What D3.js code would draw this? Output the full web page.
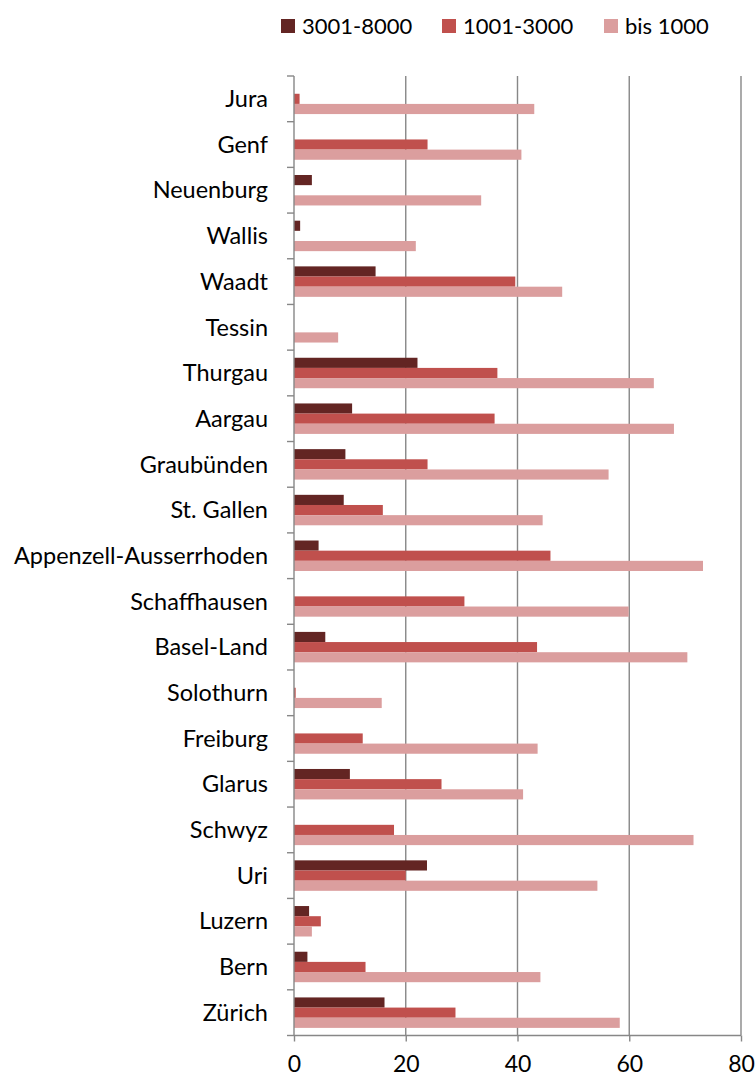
<!DOCTYPE html>
<html>
<head>
<meta charset="utf-8">
<script src="https://cdnjs.cloudflare.com/ajax/libs/d3/7.8.5/d3.min.js"></script>
<style>
  body { margin: 0; background: #fff; }
  svg { display: block; font-family: Lato, "Open Sans", sans-serif; }
</style>
</head>
<body>
<div class="chart"></div>
<script>
// categories, top to bottom as shown
var cantons = ['Jura', 'Genf', 'Neuenburg', 'Wallis', 'Waadt', 'Tessin', 'Thurgau',
  'Aargau', 'Graubünden', 'St. Gallen', 'Appenzell-Ausserrhoden', 'Schaffhausen',
  'Basel-Land', 'Solothurn', 'Freiburg', 'Glarus', 'Schwyz', 'Uri', 'Luzern', 'Bern', 'Zürich'];

var seriesNames = ['3001-8000', '1001-3000', 'bis 1000'];
var seriesColors = ['#632523', '#c0504d', '#db9e9e'];

var big   = [0, 0, 3.2, 1.1, 14.6, 0, 22.1, 10.4, 9.2, 8.9, 4.4, 0, 5.6, 0, 0, 10.0, 0, 23.8, 2.7, 2.4, 16.2];
var mid   = [1.0, 23.9, 0, 0, 39.6, 0, 36.4, 35.9, 23.9, 15.9, 45.9, 30.5, 43.5, 0.3, 12.3, 26.4, 17.9, 20.0, 4.8, 12.8, 28.9];
var small = [43.0, 40.7, 33.5, 21.8, 48.0, 7.9, 64.4, 68.0, 56.3, 44.5, 73.2, 59.9, 70.4, 15.7, 43.6, 41.0, 71.5, 54.3, 3.2, 44.1, 58.3];

var xTicks = [0, 20, 40, 60, 80];

var width = 755, height = 1086;
var plotL = 294, plotR = 741, plotT = 76, plotB = 1035.5;
var gridColor = '#878787';

var svg = d3.select('.chart').append('svg')
  .attr('width', width)
  .attr('height', height);

var x = d3.scaleLinear().domain([0, 80]).range([plotL, plotR]);
var y = d3.scaleBand().domain(cantons).range([plotT, plotB]).paddingInner(0).paddingOuter(0);
var inner = d3.scaleBand().domain(seriesNames)
  .range([y.bandwidth() / 6, y.bandwidth() * 5 / 6]);

var rows = cantons.map(function(c, i){
  return { name: c, values: [big[i], mid[i], small[i]] };
});

// gridlines
svg.append('g').selectAll('line')
  .data(xTicks.slice(1))
  .enter().append('line')
  .attr('x1', function(d){ return x(d) })
  .attr('x2', function(d){ return x(d) })
  .attr('y1', plotT)
  .attr('y2', plotB)
  .attr('stroke', gridColor)
  .attr('stroke-width', 1.4);

// bars
var groups = svg.append('g').selectAll('g')
  .data(rows)
  .enter().append('g')
  .attr('transform', function(d){ return 'translate(0,' + y(d.name) + ')' });

groups.selectAll('rect')
  .data(function(d){ return d.values.map(function(v, j){ return { s: seriesNames[j], v: v, j: j } }) })
  .enter().append('rect')
  .attr('x', x(0))
  .attr('y', function(d){ return inner(d.s) })
  .attr('width', function(d){ return x(d.v) - x(0) })
  .attr('height', inner.bandwidth())
  .attr('fill', function(d){ return seriesColors[d.j] });

// bottom axis
var xAxis = d3.axisBottom(x).tickValues(xTicks).tickSize(6).tickPadding(14).tickFormat(d3.format('d'));
var gx = svg.append('g')
  .attr('transform', 'translate(0,' + plotB + ')')
  .call(xAxis);
gx.select('.domain').attr('stroke', gridColor).attr('stroke-width', 1.4).attr('d', 'M' + plotL + ',0H' + plotR);
gx.selectAll('.tick line').attr('stroke', gridColor).attr('stroke-width', 1.4);
gx.selectAll('.tick text')
  .attr('fill', '#000')
  .style('font-size', '23px')
  .style('font-family', 'Lato, sans-serif');

// left axis line and boundary ticks
svg.append('line')
  .attr('x1', plotL).attr('x2', plotL)
  .attr('y1', plotT).attr('y2', plotB)
  .attr('stroke', gridColor).attr('stroke-width', 1.4);

var bounds = cantons.map(function(c){ return y(c) }).concat([plotB]);
svg.append('g').selectAll('line')
  .data(bounds)
  .enter().append('line')
  .attr('x1', plotL - 7).attr('x2', plotL)
  .attr('y1', function(d){ return d })
  .attr('y2', function(d){ return d })
  .attr('stroke', gridColor).attr('stroke-width', 1.4);

// category labels
svg.append('g').selectAll('text')
  .data(cantons)
  .enter().append('text')
  .attr('x', 268)
  .attr('y', function(d){ return y(d) + y.bandwidth() / 2 })
  .attr('dy', '0.35em')
  .attr('text-anchor', 'end')
  .style('font-size', '23.5px')
  .attr('fill', '#000')
  .text(function(d){ return d });

// legend
var legendX = [281, 442, 604];
var legend = svg.append('g').selectAll('g')
  .data(seriesNames)
  .enter().append('g')
  .attr('transform', function(d, i){ return 'translate(' + legendX[i] + ',19)' });

legend.append('rect')
  .attr('width', 14).attr('height', 14)
  .attr('fill', function(d, i){ return seriesColors[i] });

legend.append('text')
  .attr('x', 21)
  .attr('y', 7)
  .attr('dy', '0.36em')
  .style('font-size', '22px')
  .attr('fill', '#000')
  .text(function(d){ return d });
</script>
</body>
</html>
